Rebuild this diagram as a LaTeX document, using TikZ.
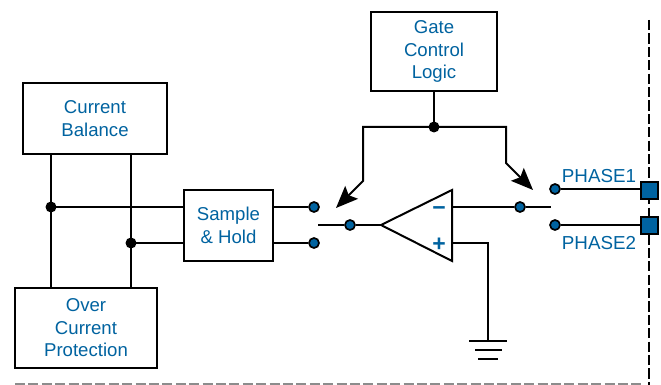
\documentclass[tikz,border=0pt]{standalone}
\usepackage{fontspec}
\setmainfont{Liberation Sans}
\usetikzlibrary{arrows.meta,calc}
\definecolor{tiblue}{RGB}{0,99,160}
\tikzset{
  x=1pt,y=-1pt,
  wire/.style={line width=2pt,black},
  blk/.style={draw=black,line width=2pt,fill=white,text=tiblue,font=\fontsize{18.6}{22.5}\selectfont,align=center,inner sep=0pt,outer sep=0pt,anchor=north west},
  jn/.style={circle,fill=black,inner sep=0pt,minimum size=11pt},
  term/.style={circle,draw=black,fill=tiblue,line width=1.7pt,inner sep=0pt,minimum size=10pt},
  pad/.style={rectangle,draw=black,fill=tiblue,line width=2pt,inner sep=0pt,minimum size=17pt},
  lbl/.style={text=tiblue,font=\fontsize{18.8}{22}\selectfont,inner sep=0pt},
  sgn/.style={text=tiblue,font=\fontsize{23}{23}\bfseries\selectfont,inner sep=0pt},
  ctrl/.style={wire,-{Stealth[length=22pt,width=18pt,inset=4pt]}},
}
\begin{document}
\begin{tikzpicture}
\useasboundingbox (0,0) rectangle (661,385);
% frame lines
\coordinate (dvT) at (649,20); \coordinate (dvB) at (649,385);
\coordinate (dhL) at (15,384); \coordinate (dhR) at (642,384);
\draw[line width=2pt,black,dash pattern=on 10.2pt off 3.2pt] (dvT) -- (dvB);
\draw[line width=1.2pt,black!45,dash pattern=on 10pt off 3.4pt] (dhL) -- (dhR);
% blocks
\node[blk,minimum width=126pt,minimum height=79pt] (gate) at (371,12) {Gate\\Control\\Logic};
\node[blk,minimum width=144pt,minimum height=71pt] (bal) at (23,83) {Current\\Balance};
\node[blk,minimum width=142pt,minimum height=80pt] (ocp) at (15,288) {Over\\Current\\Protection};
\node[blk,minimum width=89pt,minimum height=71pt] (sh) at (184,190) {Sample\\\& Hold};
% op amp
\coordinate (oaIn) at (381,225);
\coordinate (oaT) at (452,190);
\coordinate (oaB) at (452,261);
\draw[wire,line join=miter] (oaIn) -- (oaT) -- (oaB) -- cycle;
\node[sgn] at (439,211) {−};
\node[sgn] at (439,245) {+};
% junctions and terminals
\node[jn] (j1) at (51,207) {};
\node[jn] (j2) at (131,243) {};
\node[jn] (j3) at (434,127) {};
\node[term] (s1) at (314,207) {};
\node[term] (s2) at (314,243) {};
\node[term] (sw) at (350,225) {};
\node[term] (o1) at (520,207) {};
\node[term] (p1) at (555,189) {};
\node[term] (p2) at (555,225) {};
% free ends
\coordinate (swL) at (318,225);
\coordinate (swR) at (551,207);
\coordinate (aL) at (336,208);
\coordinate (aR) at (533,190);
\coordinate (kL) at (363,181);
\coordinate (kR) at (506,163);
\coordinate (gnd) at (488,341);
% connectors
\draw[wire] (j1 |- bal.south) -- (j1 |- ocp.north);
\draw[wire] (j2 |- bal.south) -- (j2 |- ocp.north);
\draw[wire] (j1.center) -- (j1 -| sh.west);
\draw[wire] (j2.center) -- (j2 -| sh.west);
\draw[wire] (s1 -| sh.east) -- (s1.west);
\draw[wire] (s2 -| sh.east) -- (s2.west);
\draw[wire] (swL) -- (sw.west) (sw.east) -- (oaIn);
\draw[wire] (o1 -| oaT) -- (o1.west) (o1.east) -- (swR);
\node[pad] (pad1) at (649,190) {};
\node[pad] (pad2) at (649,225) {};
\node[lbl,anchor=center] (l1) at (599,176) {PHASE1};
\node[lbl,anchor=center] (l2) at (599,243) {PHASE2};
\draw[wire] (p1.east) -- (p1 -| pad1.west);
\draw[wire] (p2.east) -- (p2 -| pad2.west);
\draw[wire] (j3 |- gate.south) -- (j3.center);
\draw[ctrl,line join=miter] (j3.center) -- (kL |- j3) -- (kL) -- (aL);
\draw[ctrl,line join=miter] (j3.center) -- (kR |- j3) -- (kR) -- (aR);
\draw[wire,line join=miter] (oaB |- s2) -- (gnd |- s2) -- (gnd);
\draw[wire] ($(gnd)+(-19,0)$) -- ($(gnd)+(19,0)$);
\draw[wire] ($(gnd)+(-13,9)$) -- ($(gnd)+(14,9)$);
\draw[wire] ($(gnd)+(-10,18)$) -- ($(gnd)+(10,18)$);
\end{tikzpicture}
\end{document}
